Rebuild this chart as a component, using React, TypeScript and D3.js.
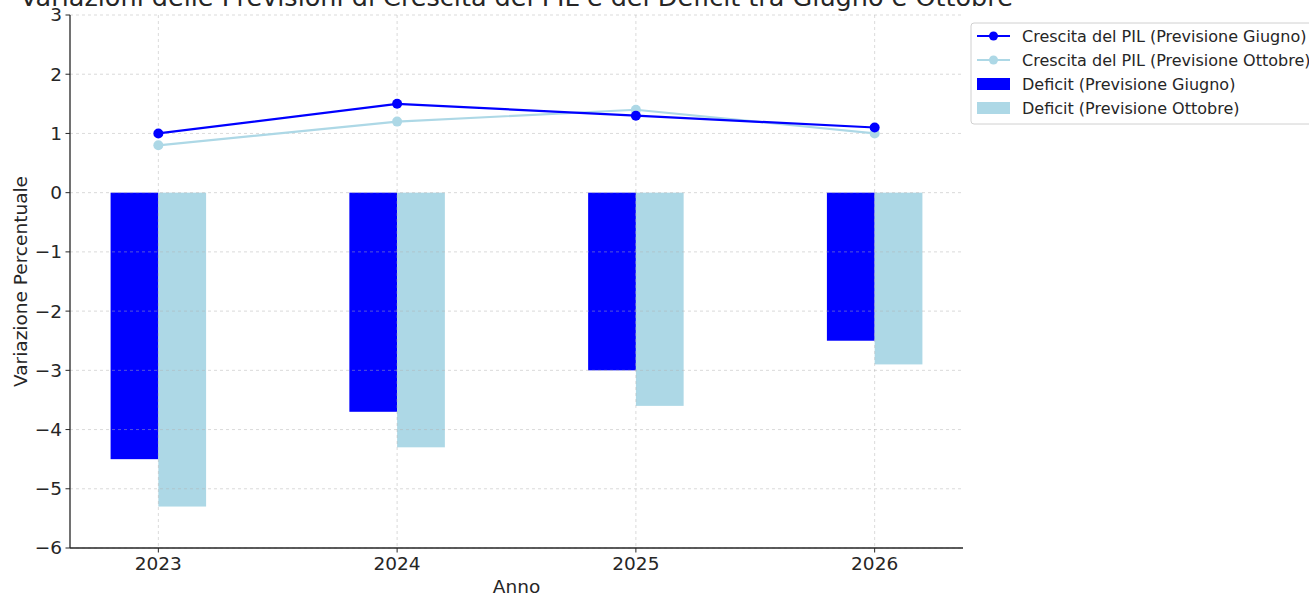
import React from "react";
import * as d3 from "d3";

const years = [2023, 2024, 2025, 2026];
const pilGiugno = [1.0, 1.5, 1.3, 1.1];
const pilOttobre = [0.8, 1.2, 1.4, 1.0];
const deficitGiugno = [-4.5, -3.7, -3.0, -2.5];
const deficitOttobre = [-5.3, -4.3, -3.6, -2.9];
const yTicks = [3, 2, 1, 0, -1, -2, -3, -4, -5, -6];
const legendLabels = [
  "Crescita del PIL (Previsione Giugno)",
  "Crescita del PIL (Previsione Ottobre)",
  "Deficit (Previsione Giugno)",
  "Deficit (Previsione Ottobre)",
];
const title = "Variazioni delle Previsioni di Crescita del PIL e del Deficit tra Giugno e Ottobre";

const BLUE = "#0000ff";
const LIGHT = "#add8e6";
const TEXT = "#262626";
const FONT = "DejaVu Sans, sans-serif";

export default function App() {
  const W = 1309, H = 596;
  const left = 70, right = 963, top = 15, bottom = 548;
  const barW = 0.2;
  const x = d3.scaleLinear().domain([2022.8 - 0.17, 2026.2 + 0.17]).range([left, right]);
  const y = d3.scaleLinear().domain([-6, 3]).range([bottom, top]);
  const line = d3.line<number>().x((_, i) => x(years[i])).y((d) => y(d));

  const legendX = 971, legendY = 23;
  return (
    <svg width={W} height={H} style={{ position: "absolute", left: 0, top: 0, background: "#fff" }} fontFamily={FONT}>
      <rect width={W} height={H} fill="#fff" />
      {/* bars */}
      {years.map((yr, i) => (
        <g key={yr}>
          <rect x={x(yr - barW)} y={y(0)} width={x(yr) - x(yr - barW)} height={y(deficitGiugno[i]) - y(0)} fill={BLUE} />
          <rect x={x(yr)} y={y(0)} width={x(yr + barW) - x(yr)} height={y(deficitOttobre[i]) - y(0)} fill={LIGHT} />
        </g>
      ))}
      {/* grid */}
      <g stroke="#b0b0b0" strokeOpacity={0.6} strokeDasharray="3,3" strokeWidth={0.8}>
        {yTicks.map((t) => (
          <line key={t} x1={left} x2={right} y1={y(t)} y2={y(t)} />
        ))}
        {years.map((yr) => (
          <line key={yr} x1={x(yr)} x2={x(yr)} y1={top} y2={bottom} />
        ))}
      </g>
      {/* lines */}
      <path d={line(pilOttobre) || ""} fill="none" stroke={LIGHT} strokeWidth={2.2} />
      {pilOttobre.map((v, i) => (
        <circle key={i} cx={x(years[i])} cy={y(v)} r={5} fill={LIGHT} />
      ))}
      <path d={line(pilGiugno) || ""} fill="none" stroke={BLUE} strokeWidth={2.2} />
      {pilGiugno.map((v, i) => (
        <circle key={i} cx={x(years[i])} cy={y(v)} r={5} fill={BLUE} />
      ))}
      {/* axes spines */}
      <line x1={left} x2={left} y1={top} y2={bottom} stroke={TEXT} strokeWidth={1.3} />
      <line x1={left} x2={right} y1={bottom} y2={bottom} stroke={TEXT} strokeWidth={1.3} />
      {/* y ticks */}
      {yTicks.map((t) => (
        <g key={t}>
          <line x1={left - 4.5} x2={left} y1={y(t)} y2={y(t)} stroke={TEXT} strokeWidth={1} />
          <text x={left - 8} y={y(t)} dy="0.35em" textAnchor="end" fontSize={18.5} fill={TEXT}>
            {t < 0 ? "\u2212" + Math.abs(t) : String(t)}
          </text>
        </g>
      ))}
      {/* x ticks */}
      {years.map((yr) => (
        <g key={yr}>
          <line x1={x(yr)} x2={x(yr)} y1={bottom} y2={bottom + 4.5} stroke={TEXT} strokeWidth={1} />
          <text x={x(yr)} y={bottom + 22} textAnchor="middle" fontSize={18.5} fill={TEXT}>
            {yr}
          </text>
        </g>
      ))}
      <text x={(left + right) / 2} y={593} textAnchor="middle" fontSize={18.5} fill={TEXT}>Anno</text>
      <text transform={`translate(27,${(top + bottom) / 2}) rotate(-90)`} textAnchor="middle" fontSize={18.5} fill={TEXT}>
        Variazione Percentuale
      </text>
      <text x={(left + right) / 2} y={6} textAnchor="middle" fontSize={25.5} fill={TEXT}>{title}</text>
      {/* legend */}
      <rect x={legendX} y={legendY} width={360} height={101} rx={3} fill="#fff" fillOpacity={0.8} stroke="#d0d0d0" />
      {legendLabels.map((lab, i) => {
        const cy = 36 + i * 24;
        return (
          <g key={lab}>
            {i < 2 ? (
              <g>
                <line x1={977} x2={1010} y1={cy} y2={cy} stroke={i === 0 ? BLUE : LIGHT} strokeWidth={2.2} />
                <circle cx={993.5} cy={cy} r={4.5} fill={i === 0 ? BLUE : LIGHT} />
              </g>
            ) : (
              <rect x={977} y={cy - 6} width={33} height={12} fill={i === 2 ? BLUE : LIGHT} />
            )}
            <text x={1022} y={cy} dy="0.35em" fontSize={16} fill={TEXT}>{lab}</text>
          </g>
        );
      })}
    </svg>
  );
}
